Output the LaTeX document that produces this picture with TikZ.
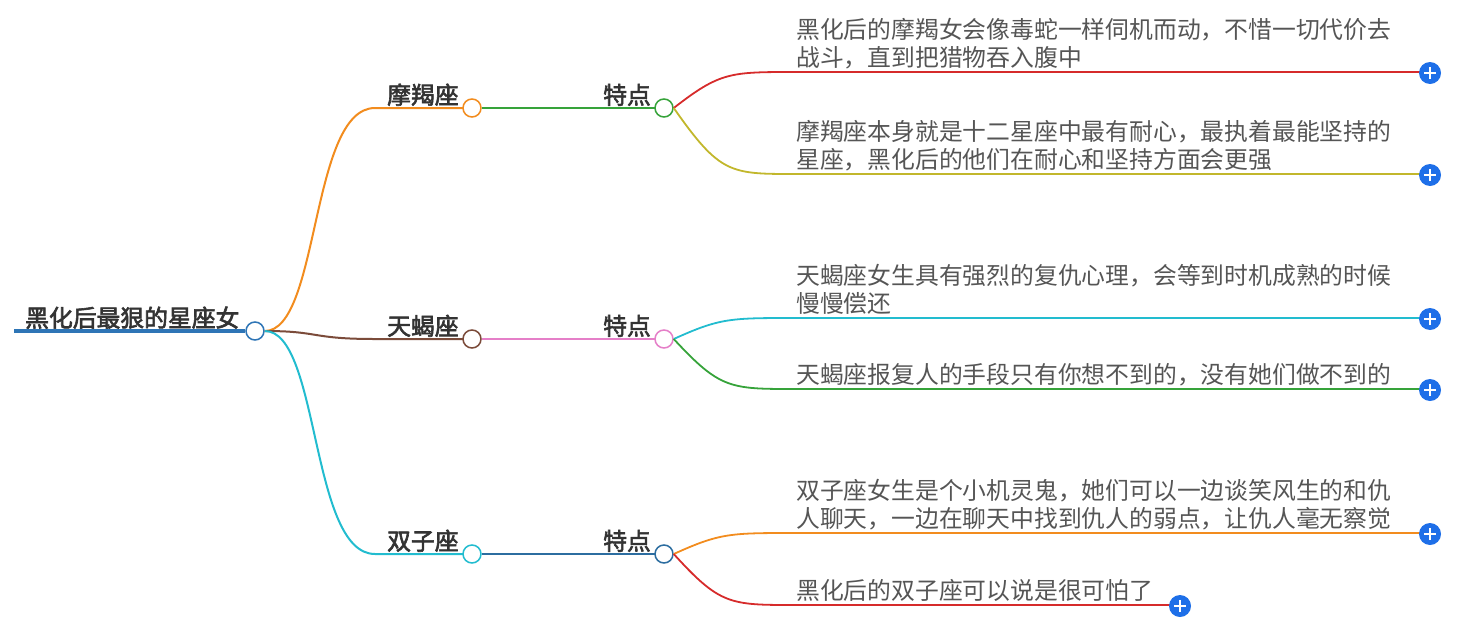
\documentclass[tikz,border=0pt]{standalone}
\usepackage{fontspec}
\setmainfont{Noto Sans CJK SC}
\newfontfamily\cjkb[FakeBold=2.5]{Noto Sans CJK SC}
\definecolor{cBlue}{HTML}{2E75B6}
\definecolor{cOrange}{HTML}{F28C1E}
\definecolor{cBrown}{HTML}{7B4B3A}
\definecolor{cCyan}{HTML}{22BCCF}
\definecolor{cGreen}{HTML}{36A33A}
\definecolor{cPink}{HTML}{E57FC8}
\definecolor{cDark}{HTML}{2C6DA0}
\definecolor{cRed}{HTML}{D62B2B}
\definecolor{cOlive}{HTML}{C2B72C}
\definecolor{cPlus}{HTML}{1E6FE8}
\definecolor{cText}{HTML}{555555}
\begin{document}
\begin{tikzpicture}[x=1pt,y=-1pt,
  br/.style={line width=2pt},
  dot/.style={circle,draw,line width=1.5pt,fill=white,minimum size=18pt,inner sep=0pt},
  head/.style={font=\cjkb\fontsize{23.8}{28}\selectfont,text=black!80,anchor=south west,inner sep=0pt},
  leaf/.style={font=\fontsize{23.8}{28}\selectfont,text=cText,anchor=south west,inner sep=0pt,align=left},
  plus/.style={circle,fill=cPlus,minimum size=22pt,inner sep=0pt,path picture={\draw[white,line width=2pt]([xshift=-6pt]path picture bounding box.center)--([xshift=6pt]path picture bounding box.center);\draw[white,line width=2pt]([yshift=-6pt]path picture bounding box.center)--([yshift=6pt]path picture bounding box.center);}}]
\useasboundingbox (0,0) rectangle (1459,624);
% root
\node[head] (root) at (25,329) {黑化后最狠的星座女};
\coordinate (r0) at (14,331);
\node[dot,draw=cBlue] (rc) at (255,331) {};
\draw[cBlue,line width=4pt] (r0) -- (rc.west);
% level 1
\foreach \n/\y/\c/\t in {a/108/cOrange/摩羯座,b/339/cBrown/天蝎座,c/554/cCyan/双子座}{
  \coordinate (s\n) at (375,\y);
  \draw[\c,br] (rc.east) .. controls (320,331) and (310,\y) .. (s\n) -- (472,\y);
  \node[head] (t\n) at (387,\y-2) {\t};
  \node[dot,draw=\c] (c\n) at (472,\y) {};
}
% level 2
\foreach \n/\y/\c in {a/108/cGreen,b/339/cPink,c/554/cDark}{
  \draw[\c,br] (c\n.east) -- (664,\y);
  \node[head] (k\n) at (603,\y-2) {特点};
  \node[dot,draw=\c] (d\n) at (664,\y) {};
}
% leaves
\foreach \p/\y/\c/\xe/\t in {
 da/72/cRed/1420/{黑化后的摩羯女会像毒蛇一样伺机而动，不惜一切代价去\\战斗，直到把猎物吞入腹中},
 da/174/cOlive/1420/{摩羯座本身就是十二星座中最有耐心，最执着最能坚持的\\星座，黑化后的他们在耐心和坚持方面会更强},
 db/318/cCyan/1420/{天蝎座女生具有强烈的复仇心理，会等到时机成熟的时候\\慢慢偿还},
 db/389/cGreen/1420/{天蝎座报复人的手段只有你想不到的，没有她们做不到的},
 dc/533/cOrange/1420/{双子座女生是个小机灵鬼，她们可以一边谈笑风生的和仇\\人聊天，一边在聊天中找到仇人的弱点，让仇人毫无察觉},
 dc/605/cRed/1170/{黑化后的双子座可以说是很可怕了}}{
  \draw[\c,line width=1.8pt] (\p.east) .. controls (720,\y) and (730,\y) .. (795,\y) -- (\xe,\y);
  \node[leaf] at (796,\y-3) {\t};
  \node[plus] at (\xe+10,\y+1) {};
}
\end{tikzpicture}
\end{document}
